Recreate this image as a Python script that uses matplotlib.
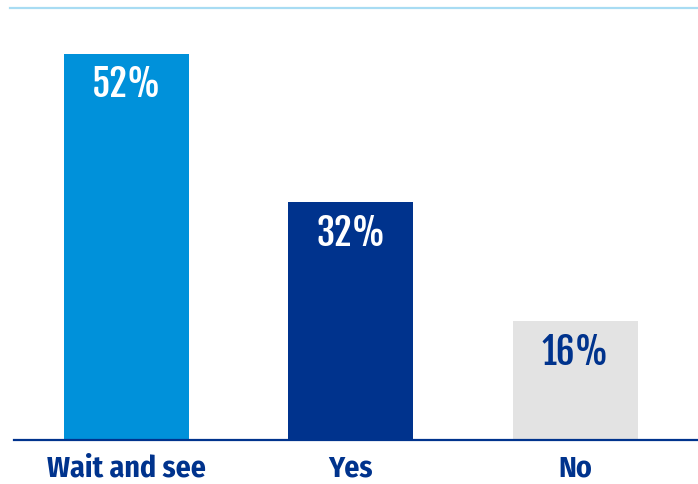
import matplotlib.pyplot as plt

categories = ['Wait and see', 'Yes', 'No']
values = [52, 32, 16]
bar_colors = ['#0091da', '#00338d', '#e3e3e3']
value_colors = ['white', 'white', '#00338d']

num_font = ['Fjalla One', 'Oswald', 'DejaVu Sans']
lab_font = ['Fira Sans Condensed', 'Roboto Condensed', 'DejaVu Sans']

fig = plt.figure(figsize=(6.98, 4.84), dpi=100)
ax = fig.add_axes([14 / 698, 44 / 484, 684 / 698, 432 / 484])

x = range(len(categories))
bars = ax.bar(x, values, width=0.557, color=bar_colors, zorder=2)
ax.set_xlim(-0.501, 2.548)
ax.set_ylim(0, 58.2)

for b, v, c in zip(bars, values, value_colors):
    ax.annotate(f'{v}%', (b.get_x() + b.get_width() / 2, v),
                xytext=(0, -7.5), textcoords='offset points',
                ha='center', va='top', fontsize=26.5,
                family=num_font, color=c)

ax.set_xticks(list(x))
ax.set_xticklabels(categories, fontsize=21.5, fontweight='bold',
                   family=lab_font, color='#00338d')
ax.tick_params(axis='x', length=0, pad=10.5)
ax.set_yticks([])

for s in ['left', 'right', 'top']:
    ax.spines[s].set_visible(False)
ax.spines['bottom'].set_color('#00338d')
ax.spines['bottom'].set_linewidth(1.6)

# light rule across the top
fig.add_artist(plt.Line2D([10 / 698, 1], [476 / 484, 476 / 484],
                          color='#a8dcf3', linewidth=1.6))

fig.savefig('out.png', dpi=100)
